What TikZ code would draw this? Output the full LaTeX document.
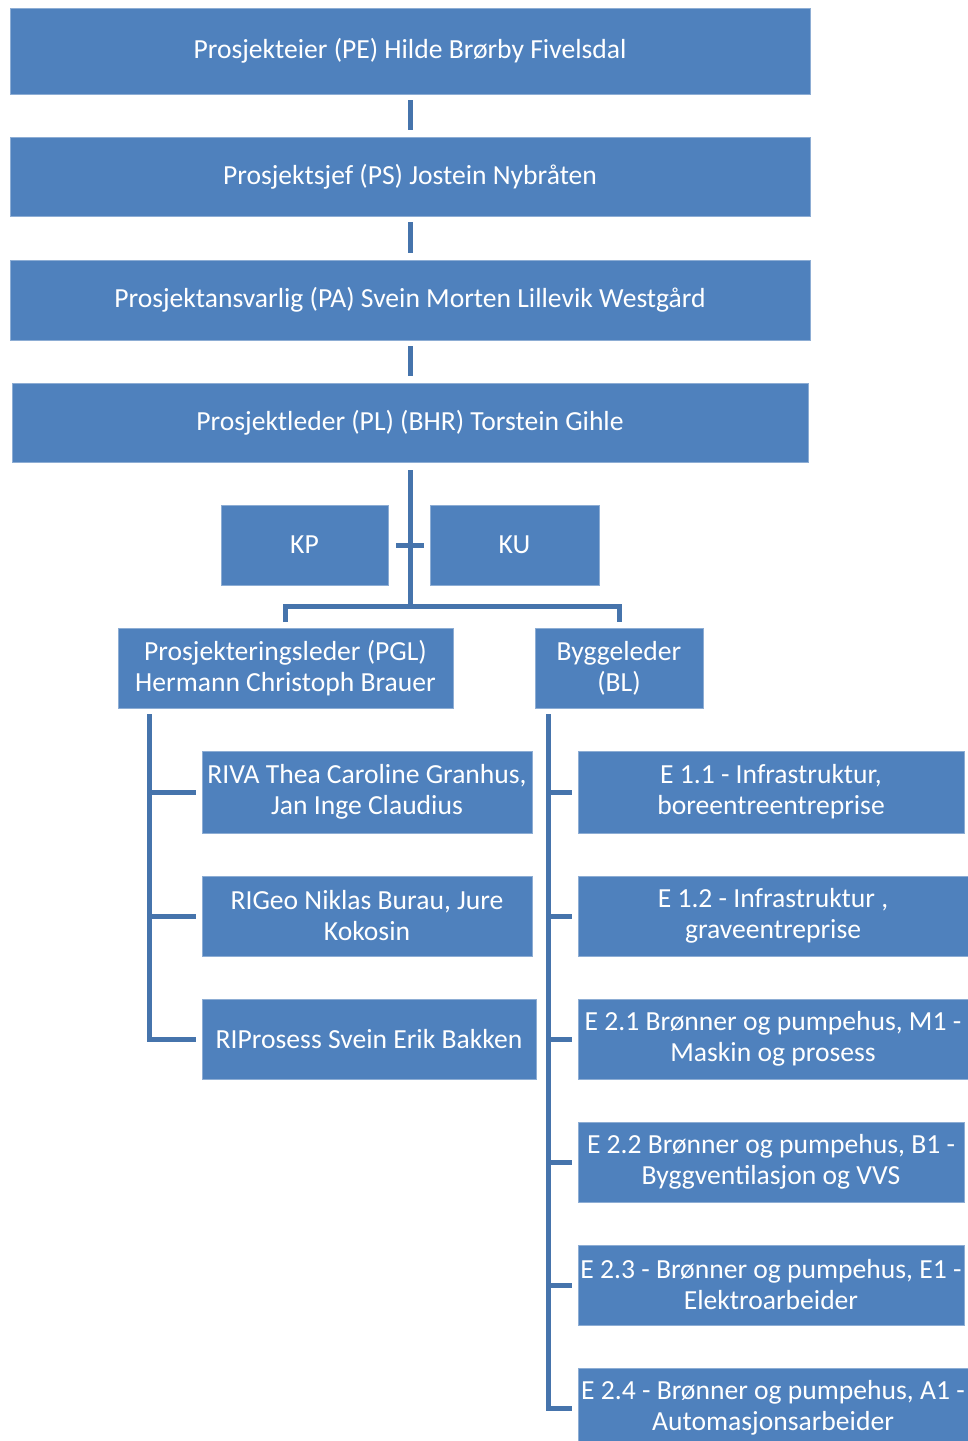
\documentclass[tikz,border=0pt]{standalone}
\usepackage{fontspec}
\setmainfont{Carlito}
\definecolor{boxblue}{HTML}{4F81BD}
\definecolor{lineblue}{HTML}{4674AC}
\tikzset{
  box/.style={fill=boxblue, draw=boxblue!65!white, line width=0.3pt, text=white,
    inner sep=0pt, outer sep=0pt, align=center,
    font=\fontsize{13.8}{15.5}\selectfont},
  conn/.style={draw=lineblue, line width=2.5pt}
}
\newcommand\orgbox[6]{%
  \pgfmathsetmacro\cx{(#2+#4)/2}\pgfmathsetmacro\cy{(#3+#5)/2}%
  \pgfmathsetmacro\bw{(#4-#2)*0.5}\pgfmathsetmacro\bh{(#5-#3)*0.5}%
  \node[box, minimum width=\bw pt, minimum height=\bh pt] (#1) at (\cx,\cy) {#6};}
\begin{document}
\begin{tikzpicture}[x=0.5pt, y=-0.5pt]
\useasboundingbox (0,0) rectangle (968,1441);
\clip (0,0) rectangle (968,1441);
\fill[white] (0,0) rectangle (968,1441);
% top chain
\orgbox{PE}{10}{8}{810}{94}{Prosjekteier (PE) Hilde Brørby Fivelsdal}
\orgbox{PS}{10}{137}{810}{216}{Prosjektsjef (PS) Jostein Nybråten}
\orgbox{PA}{10}{260}{810}{340}{Prosjektansvarlig (PA) Svein Morten Lillevik Westgård}
\orgbox{PL}{12}{383}{808}{462}{Prosjektleder (PL) (BHR) Torstein Gihle}
\orgbox{KP}{221}{505}{388}{585}{KP}
\orgbox{KU}{430}{505}{599}{585}{KU}
\orgbox{PGL}{118}{628}{453}{708}{Prosjekteringsleder (PGL)\\Hermann Christoph Brauer}
\orgbox{BL}{535}{628}{703}{708}{Byggeleder\\(BL)}
% left column
\orgbox{RIVA}{202}{751}{532}{833}{RIVA Thea Caroline Granhus,\\Jan Inge Claudius}
\orgbox{RIGeo}{202}{876}{532}{956}{RIGeo Niklas Burau, Jure\\Kokosin}
\orgbox{RIP}{202}{999}{536}{1079}{RIProsess Svein Erik Bakken}
% right column
\orgbox{E11}{578}{751}{964}{833}{E 1.1 - Infrastruktur,\\boreentreentreprise}
\orgbox{E12}{578}{876}{968}{956}{E 1.2 - Infrastruktur ,\\graveentreprise}
\orgbox{E21}{578}{999}{968}{1079}{E 2.1 Brønner og pumpehus, M1 -\\Maskin og prosess}
\orgbox{E22}{578}{1122}{964}{1202}{E 2.2 Brønner og pumpehus, B1 -\\Byggventilasjon og VVS}
\orgbox{E23}{578}{1245}{964}{1325}{E 2.3 - Brønner og pumpehus, E1 -\\Elektroarbeider}
\orgbox{E24}{578}{1368}{968}{1448}{E 2.4 - Brønner og pumpehus, A1 -\\Automasjonsarbeider}
% connectors top chain
\draw[conn, shorten <=3pt, shorten >=3.5pt] (PE.south) -- (PS.north);
\draw[conn, shorten <=3pt, shorten >=3.5pt] (PS.south) -- (PA.north);
\draw[conn, shorten <=3pt, shorten >=3.5pt] (PA.south) -- (PL.north);
% trunk below PL
\coordinate (j) at (410,606);
\draw[conn] ([yshift=-4pt]PL.south) -- (j);
\draw[conn] ([xshift=4pt]KP.east) -- ([xshift=-3pt]KU.west);
\draw[conn] ([yshift=3pt]PGL.north) |- (j) -| ([yshift=3pt]BL.north);
% left trunk
\coordinate (lt) at (149,714);
\draw[conn] (lt) |- ([xshift=-3pt]RIP.west);
\draw[conn] (lt |- RIVA.west) -- ([xshift=-3pt]RIVA.west);
\draw[conn] (lt |- RIGeo.west) -- ([xshift=-3pt]RIGeo.west);
% right trunk
\coordinate (rt) at (548,714);
\draw[conn] (rt) |- ([xshift=-3pt]E24.west);
\foreach \n in {E11,E12,E21,E22,E23}
  \draw[conn] (rt |- \n.west) -- ([xshift=-3pt]\n.west);
\end{tikzpicture}
\end{document}
